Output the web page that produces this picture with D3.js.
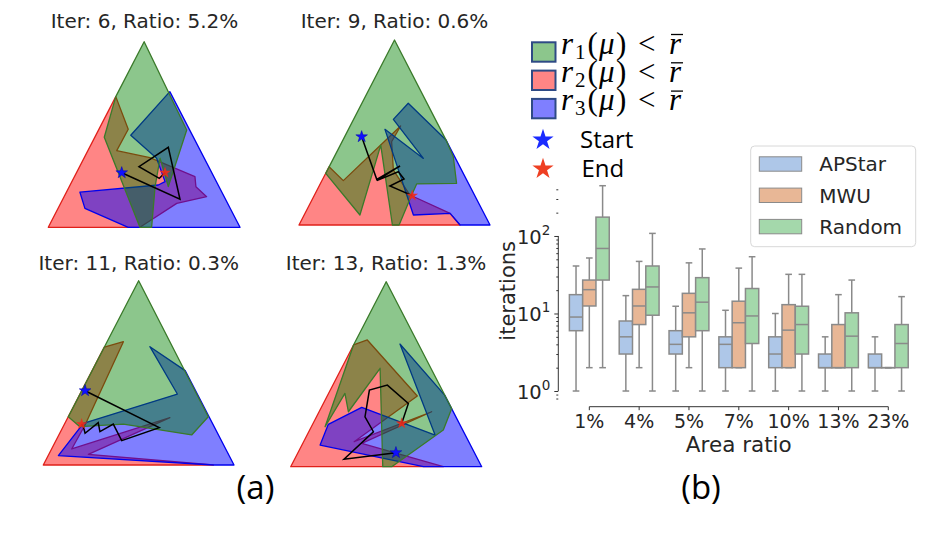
<!DOCTYPE html>
<html><head><meta charset="utf-8">
<script src="https://cdn.jsdelivr.net/npm/d3@7"></script>
<style>body{margin:0;background:#fff}svg{display:block}</style>
</head><body>
<svg id="fig" width="934" height="544"></svg>
<script>
// ---------------- DATA ----------------
// (a) simplex panels: region vertices in triangle coords (u: 0..100 left->right, v: 0..100 bottom->apex)
const panelTitles = ["Iter: 6, Ratio: 5.2%", "Iter: 9, Ratio: 0.6%", "Iter: 11, Ratio: 0.3%", "Iter: 13, Ratio: 1.3%"];
const greenRegions = [
  [[50,100],[72.2,52.4],[62.6,21.9],[58.3,37.2],[55.7,21.9],[53.9,0],[47.8,0],[29.2,48.5],[35.2,70.4]],
  [[50,100],[77,45.9],[80.8,36.9],[82.5,22.5],[61.6,22.2],[59,16.2],[52.4,0],[48.9,0],[42.8,43.2],[31.9,5.4],[14,27.9]],
  [[50,100],[13.1,26.2],[19.2,20.8],[42,22.2],[77.8,16.3],[86.5,26.2]],
  [[50,100],[32.9,65.8],[18,21.6],[28.4,39.6],[30.2,29.7],[46.8,53.2],[48.2,0],[52.9,0],[79.9,19.8],[84.3,31.5]]
];
const redRegions = [
  [[35.2,70.4],[41.7,52.8],[35.7,41.3],[53,37.5],[76.5,27.3],[77,21.9],[82.6,16.5],[67,12.9],[47.8,0],[0,0]],
  [[0,0],[15.75,31.5],[23.2,24],[53.2,53.5],[48.5,45],[49.4,29.7],[58.1,16.2],[79.1,6.3],[84.3,0]],
  [[0,0],[32,64],[42,66.9],[21.9,21.7],[14.9,8.7],[66.4,25.7],[23.6,5.8],[89.2,0]],
  [[0,0],[32.9,65.8],[40.1,68.5],[66.3,38.2],[33.2,13.5],[73.8,29.7],[37.2,12.6],[79.9,0]]
];
const blueRegions = [
  [[63.4,73.1],[100,0],[41.7,0],[19.1,10.2],[16.5,18.9],[57.4,22.8],[60.9,24.6],[56.5,37.2],[43,49.6]],
  [[57.2,65.8],[77,45.9],[100,0],[84.3,0],[79.1,6.3],[59.9,5.4],[45,51.7],[65.1,36],[49.4,57.1]],
  [[7.9,5.1],[21,22.6],[70.3,38.5],[55.9,64.2],[74.4,51.2],[100,0],[89.2,0]],
  [[57.2,66.3],[80.6,38.7],[100,0],[69.5,0],[15.4,11.7],[19.7,22.9],[37.2,32.1],[75.6,17.1]]
];
const searchPaths = [
  [[38.3,29.4],[68.7,15.1],[62.6,43.1],[47.3,32.7],[57.9,26.4],[60.9,29.4]],
  [[32.8,47.7],[40.7,24.7],[52.9,31.9],[40.7,24],[52,28.8],[55,24.9],[47.6,21.1],[59.3,15.9]],
  [[21.9,40.3],[60.8,20.3],[41.1,13.2],[36.7,22.2],[29.7,18.1],[28.8,23],[21.9,17.2],[21,20.8],[20.1,22.2]],
  [[55.1,7.6],[27.9,4],[43.3,18.9],[38.9,27],[41.2,41.4],[50.6,44.1],[61.6,34.2],[58.1,23.4]]
];
const regionSubscripts = ["1","2","3"];
const markerLabels = ["Start","End"];

// (b) boxplot: [min, q1, median, q3, max] per area ratio
const ratioLabels = ["1%","4%","5%","7%","10%","13%","23%"];
const methods = ["APStar","MWU","Random"];
const apstarStats = [[1,6,9,17.5,41],[1,3,5,8,17],[1,3,4,6,12.4],[1,2,4,5,11],[1,2,3,5,10],[1,2,2,3,5],[1,2,2,3,5]];
const mwuStats    = [[2,12.5,20.3,27,52],[2,7.2,12.5,20.5,47],[2,5,10.2,18.2,45],[2,2,7.6,14.4,38.5],[2,2,6.1,13,32],[2,2,2,7.2,17.5],[2,2,2,2,2]];
const randomStats = [[2,27,69,175,445],[1,9.5,22,41,108],[1,6,14,29,68],[1,4.1,9.3,21,54],[1,3,7.2,12.4,32],[1,2,5.1,10.2,27],[1,2,4.1,7.2,16.5]];
const yMajorTicks = [1,10,100];
const yMinorTicks = [0.8,0.9,2,3,4,5,6,7,8,9,20,30,40,50,60,70,80,90,200,300,400];

// ---------------- STYLE / LAYOUT ----------------
const svg = d3.select("#fig");
const TXT = "#262626";
const regionStyle = {
  red:   {fill:"#ff0000", op:0.48, stroke:"#e0201a"},
  blue:  {fill:"#0000ff", op:0.5,  stroke:"#0000ee"},
  green: {fill:"#008000", op:0.45, stroke:"#3a7a2a"}
};
const panelBoxes = [
  {x0:48.3, x1:240,   yb:227.3, yt:41.7, tx:144.5, ty:28.3},
  {x0:299,  x1:490,   yb:225,   yt:40,   tx:394.5, ty:28.3},
  {x0:43.3, x1:234,   yb:465,   yt:280.7,tx:138.7, ty:269.5},
  {x0:290.7,x1:481.7, yb:466.7, yt:281.7,tx:386,   ty:269.5}
];

panelBoxes.forEach((b, i) => {
  const xs = d3.scaleLinear([0,100],[b.x0,b.x1]);
  const ys = d3.scaleLinear([0,100],[b.yb,b.yt]);
  const g = svg.append("g");
  const poly = d3.line().x(d => xs(d[0])).y(d => ys(d[1])).curve(d3.curveLinearClosed);
  const draw = (pts, st) => g.append("path").attr("d", poly(pts))
      .attr("fill", st.fill).attr("fill-opacity", st.op)
      .attr("stroke", st.stroke).attr("stroke-width", 1.3).attr("stroke-linejoin","round");
  draw(redRegions[i], regionStyle.red);
  draw(blueRegions[i], regionStyle.blue);
  draw(greenRegions[i], regionStyle.green);
  const p = searchPaths[i];
  g.append("path").attr("d", d3.line().x(d => xs(d[0])).y(d => ys(d[1]))(p))
    .attr("fill","none").attr("stroke","#000").attr("stroke-width",1.5);
  const star = d3.symbol(d3.symbolStar, 42);
  g.append("path").attr("d", star()).attr("transform", `translate(${xs(p[0][0])},${ys(p[0][1])})`)
    .attr("fill","#1010ff").attr("stroke","#0000aa").attr("stroke-width",0.5);
  g.append("path").attr("d", star()).attr("transform", `translate(${xs(p[p.length-1][0])},${ys(p[p.length-1][1])})`)
    .attr("fill","#f02a1a").attr("fill-opacity",0.9);
  g.append("text").attr("x", b.tx).attr("y", b.ty).attr("text-anchor","middle")
    .attr("font-family","DejaVu Sans").attr("font-size",20).attr("fill",TXT).text(panelTitles[i]);
});

// ---- region legend (top) ----
const legStyles = [regionStyle.green, regionStyle.red, regionStyle.blue];
regionSubscripts.forEach((s, i) => {
  const cy = 52 + i*28.3;
  svg.append("rect").attr("x",532).attr("y",cy-9.7).attr("width",23.5).attr("height",19.4)
    .attr("fill", legStyles[i].fill).attr("fill-opacity", legStyles[i].op)
    .attr("stroke","#2e4a85").attr("stroke-width",2);
  const base = cy + 1.5;
  const t = svg.append("text").attr("y", base).attr("font-family","Liberation Serif").attr("font-size",31).attr("fill","#000");
  t.append("tspan").attr("x",561).attr("font-style","italic").text("r");
  t.append("tspan").attr("x",575).attr("dy",5).attr("font-size",21).text(s);
  t.append("tspan").attr("x",587.5).attr("dy",-5).text("(");
  t.append("tspan").attr("x",599).attr("font-style","italic").text("μ");
  t.append("tspan").attr("x",616).text(")");
  t.append("tspan").attr("x",638).text("<");
  t.append("tspan").attr("x",669).attr("font-style","italic").text("r");
  svg.append("line").attr("x1",671).attr("x2",683).attr("y1",base-19).attr("y2",base-19)
    .attr("stroke","#000").attr("stroke-width",1.3);
});
const markerColors = ["#1a2bff","#ee3f22"];
markerLabels.forEach((lab, i) => {
  const cy = 140 + i*29;
  svg.append("path").attr("d", d3.symbol(d3.symbolStar, 140)()).attr("transform",`translate(543,${cy})`)
    .attr("fill", markerColors[i]);
  svg.append("text").attr("x", 580 + i*1.5).attr("y", cy+7.5).attr("font-family","Open Sans").attr("font-size",24)
    .attr("fill","#000").text(lab);
});

// ---------------- (b) BOXPLOT ----------------
const x = d3.scaleBand(ratioLabels, [564.4, 913.2]);
const xh = d3.scaleBand(methods, [0, x.bandwidth()*0.8]);
const y = d3.scaleLog([0.75, 460], [400.7, 184.6]);
const boxFill = {APStar:"#aec7e8", MWU:"#e8b796", Random:"#a4d8ab"};
const edge = "#8a8a8a";
const allStats = {APStar: apstarStats, MWU: mwuStats, Random: randomStats};

const gb = svg.append("g");
methods.forEach(m => {
  allStats[m].forEach((s, ci) => {
    const left = x(ratioLabels[ci]) + x.bandwidth()*0.1 + xh(m);
    const w = xh.bandwidth();
    const cx = left + w/2;
    const cap = w/2;
    const g = gb.append("g").attr("stroke", edge).attr("stroke-width",1.5).attr("fill","none");
    g.append("line").attr("x1",cx).attr("x2",cx).attr("y1",y(s[3])).attr("y2",y(s[4]));
    g.append("line").attr("x1",cx).attr("x2",cx).attr("y1",y(s[0])).attr("y2",y(s[1]));
    g.append("line").attr("x1",cx-cap/2).attr("x2",cx+cap/2).attr("y1",y(s[4])).attr("y2",y(s[4]));
    g.append("line").attr("x1",cx-cap/2).attr("x2",cx+cap/2).attr("y1",y(s[0])).attr("y2",y(s[0]));
    g.append("rect").attr("x",left).attr("y",y(s[3])).attr("width",w).attr("height",Math.max(0.01,y(s[1])-y(s[3])))
      .attr("fill", boxFill[m]);
    g.append("line").attr("x1",left).attr("x2",left+w).attr("y1",y(s[2])).attr("y2",y(s[2]));
  });
});

// y axis
const axX = 558.3;
const gyMinor = svg.append("g").attr("transform",`translate(${axX},0)`)
  .call(d3.axisLeft(y).tickValues(yMinorTicks).tickSize(2).tickFormat(() => ""));
const gyMajor = svg.append("g").attr("transform",`translate(${axX},0)`)
  .call(d3.axisLeft(y).tickValues(yMajorTicks).tickSize(4).tickPadding(4).tickFormat(() => ""));
[gyMinor, gyMajor].forEach(g => { g.select(".domain").remove(); g.selectAll("line").attr("stroke","#333"); });
gyMajor.selectAll(".tick text").each(function(d) {
  const t = d3.select(this).attr("font-family","DejaVu Sans").attr("font-size",19.5).attr("fill",TXT).attr("dy","0.36em");
  t.append("tspan").text("10");
  t.append("tspan").attr("dy",-9).attr("font-size",13.5).text(String(Math.round(Math.log10(d))));
});
svg.append("line").attr("x1",axX).attr("x2",axX).attr("y1",y(1)).attr("y2",y(100)).attr("stroke","#333").attr("stroke-width",1);

// x axis
const axY = 406.7;
const gx = svg.append("g").attr("transform",`translate(0,${axY})`)
  .call(d3.axisBottom(x).tickSize(3.5));
gx.select(".domain").remove();
gx.selectAll("line").attr("stroke","#333");
gx.selectAll("text").attr("font-family","DejaVu Sans").attr("font-size",19).attr("fill",TXT)
  .attr("y",21.5).attr("dy",0);
const xc0 = x(ratioLabels[0]) + x.bandwidth()/2, xc1 = x(ratioLabels[ratioLabels.length-1]) + x.bandwidth()/2;
svg.append("line").attr("x1",xc0).attr("x2",xc1).attr("y1",axY).attr("y2",axY).attr("stroke","#333");

svg.append("text").attr("x",738.8).attr("y",451.5).attr("text-anchor","middle")
  .attr("font-family","DejaVu Sans").attr("font-size",21.5).attr("fill",TXT).text("Area ratio");
svg.append("text").attr("transform","translate(514.5,290.8) rotate(-90)").attr("text-anchor","middle")
  .attr("font-family","DejaVu Sans").attr("font-size",21).attr("fill",TXT).text("iterations");

// box legend
svg.append("rect").attr("x",750.7).attr("y",146).attr("width",165).attr("height",100.7).attr("rx",4)
  .attr("fill","#fff").attr("fill-opacity",0.8).attr("stroke","#d8d8d8");
methods.forEach((m, i) => {
  const cy = 164 + i*31.3;
  svg.append("rect").attr("x",759.3).attr("y",cy-7.2).attr("width",42.4).attr("height",14.4)
    .attr("fill",boxFill[m]).attr("stroke",edge).attr("stroke-width",1);
  svg.append("text").attr("x",819.3).attr("y",cy+7.2).attr("font-family","DejaVu Sans").attr("font-size",20)
    .attr("fill",TXT).text(m);
});

// panel labels
svg.append("text").attr("x",255.5).attr("y",499).attr("text-anchor","middle").attr("font-family","Open Sans")
  .attr("font-size",33).attr("fill","#000").text("(a)");
svg.append("text").attr("x",701).attr("y",499).attr("text-anchor","middle").attr("font-family","Open Sans")
  .attr("font-size",33).attr("fill","#000").text("(b)");
</script>
</body></html>
